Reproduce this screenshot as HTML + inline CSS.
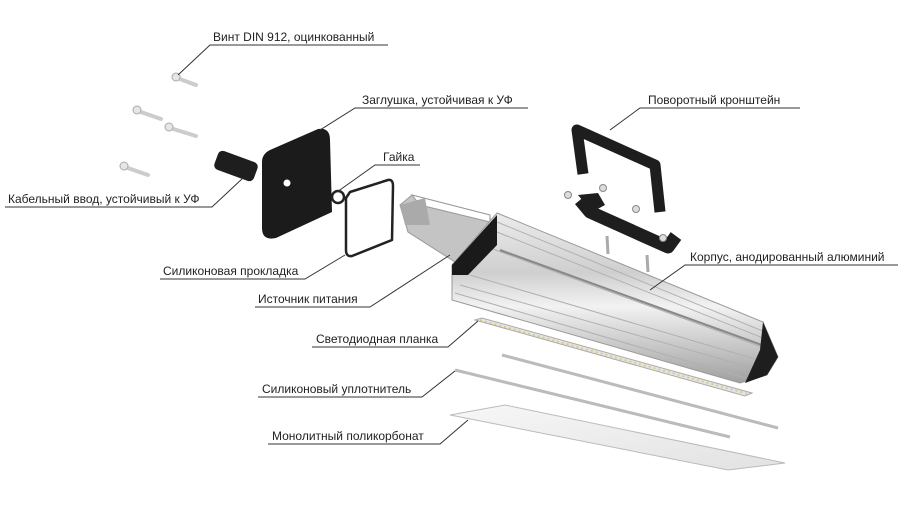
<!DOCTYPE html>
<html><head><meta charset="utf-8"><style>
body{margin:0;background:#fff;}
svg{display:block}
text{font-family:"Liberation Sans",sans-serif;font-size:12px;fill:#222}
</style></head><body>
<svg width="910" height="505" viewBox="0 0 910 505">
<defs>
<linearGradient id="al" x1="0" y1="0" x2="0" y2="1">
<stop offset="0" stop-color="#ececec"/><stop offset="0.35" stop-color="#cfcfcf"/><stop offset="0.55" stop-color="#f2f2f2"/><stop offset="1" stop-color="#a0a0a0"/></linearGradient>
<linearGradient id="pc" x1="0" y1="0" x2="1" y2="1"><stop offset="0" stop-color="#f7f7f7"/><stop offset="1" stop-color="#e2e2e2"/></linearGradient>
</defs>
<!-- power supply -->
<polygon points="400,205 412,195 490,215 492,250 455,262 408,232" fill="#c4c4c4" stroke="#999"/>
<polygon points="412,195 490,215 490,222 420,205" fill="#fff" stroke="#999"/>
<polygon points="400,205 425,198 430,225 405,225" fill="#aaa"/>
<!-- housing -->
<polygon points="497,213 763,322 778,357 767,375 740,383 452,300 452,265" fill="url(#al)" stroke="#999" stroke-width="1"/>
<g stroke="#b0b0b0" stroke-width="1">
<line x1="497" y1="222" x2="765" y2="332"/><line x1="497" y1="232" x2="768" y2="340"/><line x1="490" y1="248" x2="770" y2="350"/><line x1="470" y1="275" x2="765" y2="362"/><line x1="460" y1="285" x2="760" y2="370"/><line x1="455" y1="293" x2="745" y2="378"/>
</g>
<line x1="500" y1="250" x2="770" y2="348" stroke="#888" stroke-width="2"/>
<polygon points="452,265 497,215 497,245 468,275 452,275" fill="#1a1a1a"/>
<polygon points="763,322 778,357 767,375 745,383 760,350" fill="#1e1e1e"/>
<!-- bracket -->
<polyline points="583,174 577,130 655,165 660,212" fill="none" stroke="#1e1e1e" stroke-width="11" stroke-linejoin="round"/>
<polyline points="580,200 590,212 668,247 676,236" fill="none" stroke="#1e1e1e" stroke-width="13" stroke-linejoin="round"/>
<polygon points="578,195 598,193 605,205 592,212" fill="#1e1e1e"/>
<g fill="#ddd" stroke="#888"><circle cx="568" cy="195" r="3.5"/><circle cx="603" cy="188" r="3.5"/><circle cx="636" cy="209" r="3.5"/><circle cx="663" cy="238" r="3.5"/></g>
<line x1="607" y1="236" x2="608" y2="254" stroke="#aaa" stroke-width="3"/>
<line x1="647" y1="255" x2="648" y2="272" stroke="#aaa" stroke-width="3"/>
<!-- endcap -->
<path d="M270,150 L318,129 Q330,127 330,140 L332,212 L276,238 Q262,241 262,228 L262,162 Q262,154 270,150 Z" fill="#1b1b1b"/>
<circle cx="287" cy="183" r="3.5" fill="#fff"/>
<!-- gasket -->
<path d="M350,192 L388,180 Q393,179 393,186 L392,240 L352,256 Q346,257 346,250 L346,198 Z" fill="none" stroke="#222" stroke-width="2.5" stroke-linejoin="round"/>
<circle cx="338" cy="197" r="6" fill="none" stroke="#222" stroke-width="2.5"/>
<!-- cable gland -->
<rect x="215" y="156" width="42" height="20" rx="5" fill="#1e1e1e" transform="rotate(20 236 166)"/>
<!-- screws -->
<g stroke="#ccc" stroke-width="4" stroke-linecap="round">
<line x1="177" y1="78" x2="196" y2="85"/><line x1="138" y1="111" x2="161" y2="119"/><line x1="170" y1="128" x2="196" y2="136"/><line x1="125" y1="167" x2="148" y2="175"/>
</g>
<g fill="#e6e6e6" stroke="#aaa"><circle cx="176" cy="77" r="4"/><circle cx="137" cy="110" r="4"/><circle cx="169" cy="127" r="4"/><circle cx="124" cy="166" r="4"/></g>
<!-- LED strip -->
<polygon points="475,320 482,318 752,393 745,396" fill="#e4e4e4" stroke="#aaa"/>
<line x1="480" y1="320" x2="748" y2="394" stroke="#d8c870" stroke-width="1.5" stroke-dasharray="2,3"/>
<!-- rods -->
<line x1="455" y1="370" x2="730" y2="437" stroke="#bbb" stroke-width="3"/>
<line x1="502" y1="355" x2="778" y2="428" stroke="#bbb" stroke-width="3"/>
<!-- polycarbonate -->
<polygon points="450,415 505,405 785,463 728,470" fill="url(#pc)" stroke="#bbb"/>
<!-- labels -->
<g stroke="#333" stroke-width="1" fill="none">
<polyline points="178,75 210,45 388,45"/>
<polyline points="320,130 355,108 528,108"/>
<polyline points="610,130 640,108 800,108"/>
<polyline points="337,192 375,165 420,165"/>
<polyline points="5,207 212,207 243,178"/>
<polyline points="650,290 685,265 898,265"/>
<polyline points="160,279 305,279 345,255"/>
<polyline points="255,307 370,307 450,255"/>
<polyline points="312,347 448,347 478,321"/>
<polyline points="258,397 422,397 455,371"/>
<polyline points="268,444 440,444 468,420"/>
</g>
<text x="213" y="41">Винт DIN 912, оцинкованный</text>
<text x="362" y="104">Заглушка, устойчивая к УФ</text>
<text x="648" y="104">Поворотный кронштейн</text>
<text x="383" y="161">Гайка</text>
<text x="8" y="203">Кабельный ввод, устойчивый к УФ</text>
<text x="690" y="261">Корпус, анодированный алюминий</text>
<text x="163" y="275">Силиконовая прокладка</text>
<text x="258" y="303">Источник питания</text>
<text x="316" y="343">Светодиодная планка</text>
<text x="262" y="393">Силиконовый уплотнитель</text>
<text x="272" y="440">Монолитный поликорбонат</text>
</svg>
</body></html>
